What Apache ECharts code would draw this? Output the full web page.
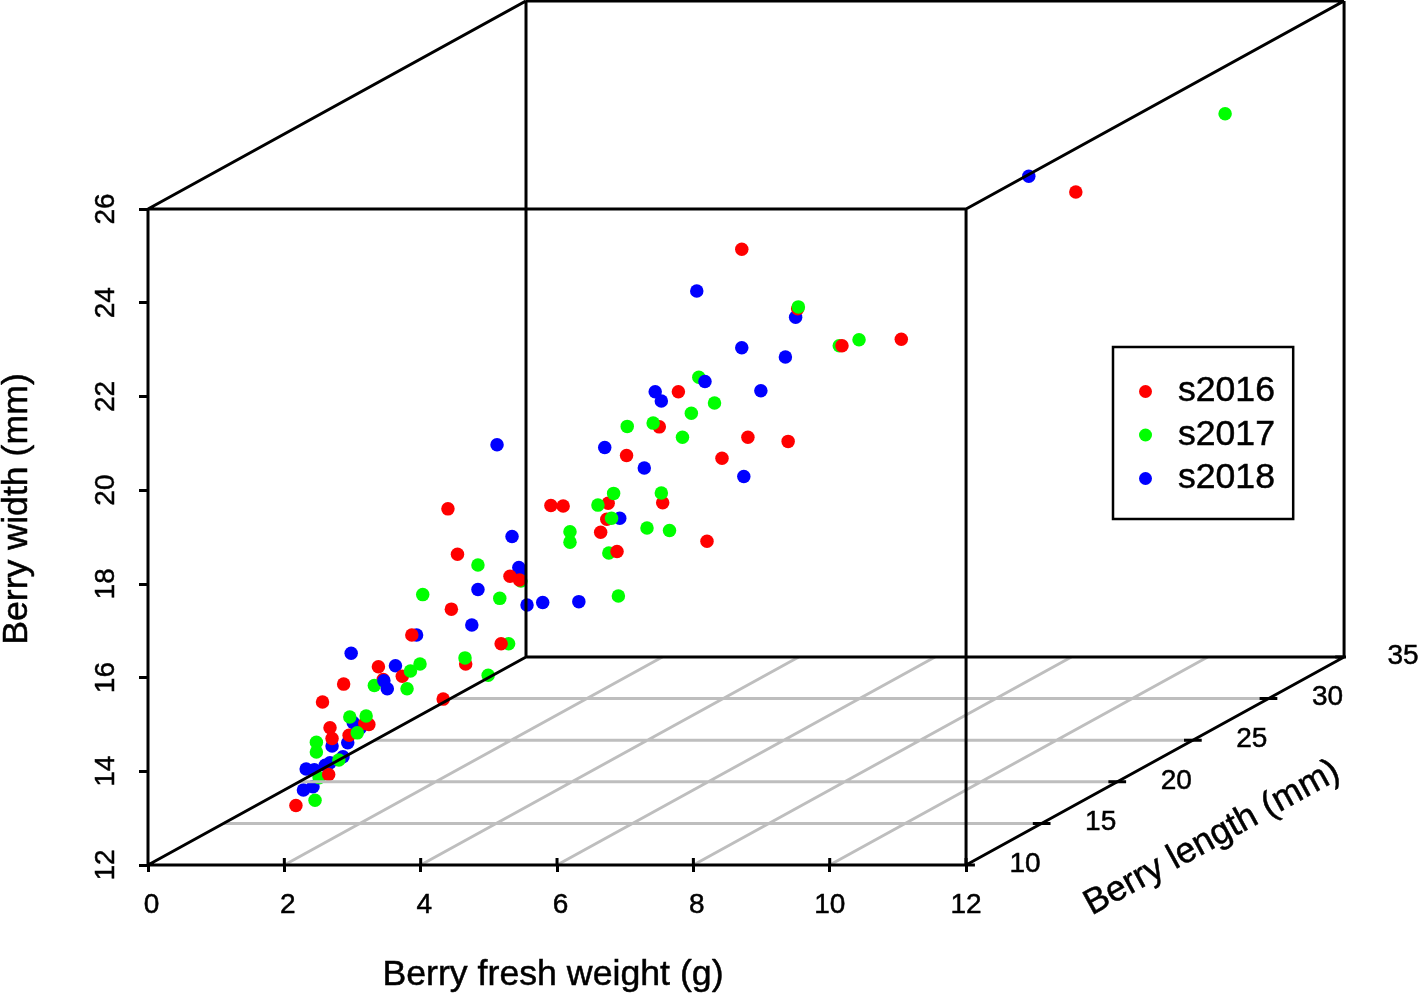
<!DOCTYPE html>
<html>
<head>
<meta charset="utf-8">
<title>Berry size</title>
<script src="https://cdn.jsdelivr.net/npm/echarts@6/dist/echarts.min.js"></script>
<style>
  html, body { margin: 0; padding: 0; background: #fff; }
  #chart { width: 1418px; height: 993px; }
</style>
</head>
<body>
<div id="chart"></div>
<script>
// tick labels
var weightTicks = [0, 2, 4, 6, 8, 10, 12];
var widthTicks = [12, 14, 16, 18, 20, 22, 24, 26];
var lengthTicks = [10, 15, 20, 25, 30, 35];

// points as they read off the picture, in weight / width units after the
// oblique projection (the length part can't be recovered from a flat image)
var s2016 = [
  [2.17, 13.27], [2.70, 14.70], [2.67, 14.93], [2.95, 14.77], [3.24, 15.00], [3.18, 15.02],
  [2.56, 15.48], [2.87, 15.86], [3.38, 16.23], [3.45, 15.96], [3.73, 16.03], [3.87, 16.91],
  [4.33, 15.54], [4.66, 16.29], [4.45, 17.46], [4.54, 18.63], [4.40, 19.60], [5.31, 18.16],
  [5.91, 19.67], [6.09, 19.66], [6.75, 19.72], [6.73, 19.38], [6.64, 19.10],
  [7.55, 19.73], [8.20, 18.91], [7.02, 20.74], [7.50, 21.35], [8.42, 20.68], [8.80, 21.13],
  [9.39, 21.04], [7.78, 22.10], [9.53, 23.87], [11.05, 23.22], [8.71, 25.14], [13.61, 26.36]
];
var s2017 = [
  [2.45, 13.38], [2.51, 13.86], [2.80, 14.24], [2.47, 14.41], [2.47, 14.62], [3.07, 14.82],
  [2.96, 15.16], [3.20, 15.18], [3.32, 15.83], [3.80, 15.76], [3.85, 16.14], [3.99, 16.29],
  [4.65, 16.42], [4.99, 16.05], [5.29, 16.72], [4.03, 17.77], [5.16, 17.69], [4.84, 18.40],
  [5.47, 18.06], [6.19, 18.89], [6.19, 19.11], [6.60, 19.68], [6.83, 19.93], [6.80, 19.40],
  [6.76, 18.66], [6.90, 17.74], [7.32, 19.19], [7.65, 19.14], [7.53, 19.94], [7.03, 21.36],
  [7.41, 21.43], [7.84, 21.13], [7.97, 21.64], [8.31, 21.86], [8.08, 22.41], [9.54, 23.91],
  [10.14, 23.08], [10.43, 23.21], [15.80, 28.03]
];
var s2018 = [
  [2.28, 13.60], [2.42, 13.67], [2.32, 14.05], [2.44, 14.03], [2.60, 14.13], [2.67, 14.18],
  [2.86, 14.31], [2.70, 14.54], [2.93, 14.61], [3.01, 15.04], [3.11, 14.92], [2.98, 16.52],
  [3.63, 16.25], [3.94, 16.91], [4.75, 17.12], [4.84, 17.88], [5.44, 18.35], [5.46, 18.25],
  [5.34, 19.01], [5.56, 17.55], [5.79, 17.60], [6.32, 17.62], [6.92, 19.40], [5.12, 20.97],
  [6.70, 20.91], [7.28, 20.47], [8.74, 20.29], [7.44, 22.10], [7.53, 21.90], [8.99, 22.12],
  [8.71, 23.04], [9.35, 22.84], [9.50, 23.69], [8.05, 24.25], [12.92, 26.70]
];
// the few points that sit on top of another year in the picture
var s2016Over = [[2.65, 13.93], [5.18, 16.72], [5.45, 18.08], [6.88, 18.69], [10.18, 23.08]];
var s2018Over = [[3.46, 15.93], [3.51, 15.76], [8.17, 22.32]];

var seasons = ["s2016", "s2017", "s2018"];
var seasonColors = ["#ff0000", "#00ff00", "#0000ff"];

// oblique projection of the length axis onto the flat plot
var weightPerLength = 0.2218;
var widthPerLength = 0.17755;
function project(weight, width, length) {
  return [
    weight + (length - 10) * weightPerLength,
    width + (length - 10) * widthPerLength,
  ];
}

// one line series drawn from many [from, to] pieces, gaps between them
function segments(pairs) {
  var out = [];
  pairs.forEach(function (p) {
    out.push(p[0], p[1], ["-", "-"]);
  });
  return out;
}
function lineSeries(pairs, color, width) {
  return {
    type: "line",
    data: segments(pairs),
    showSymbol: false,
    symbol: "none",
    clip: false,
    silent: true,
    connectNulls: false,
    lineStyle: { color: color, width: width, cap: "butt" },
  };
}
function pointSeries(name, data, color) {
  return {
    name: name,
    type: "scatter",
    data: data,
    symbol: "circle",
    symbolSize: 13.5,
    clip: false,
    itemStyle: { color: color, opacity: 1 },
  };
}

var font = "Liberation Sans";
var lo = { w: 0, h: 12, l: 10 };
var hi = { w: 12, h: 26, l: 35 };
// the reference text is a little heavier than plain Liberation Sans
var heavy = { color: "#000", fontFamily: font, textBorderColor: "#000", textBorderWidth: 0.5 };

function axisName(text, x, y, rotation) {
  return {
    type: "text",
    x: x,
    y: y,
    rotation: rotation,
    style: {
      text: text,
      font: "35.7px '" + font + "'",
      fill: "#000",
      stroke: "#000",
      lineWidth: 0.5,
      align: "center",
      verticalAlign: "middle",
    },
  };
}

// gray floor grid
var floorLines = [];
weightTicks.slice(1, -1).forEach(function (w) {
  floorLines.push([project(w, lo.h, lo.l), project(w, lo.h, hi.l)]);
});
lengthTicks.slice(1, -1).forEach(function (l) {
  floorLines.push([project(lo.w, lo.h, l), project(hi.w, lo.h, l)]);
});

// black cube edges
var boxLines = [
  [project(lo.w, lo.h, lo.l), project(hi.w, lo.h, lo.l)],
  [project(lo.w, hi.h, lo.l), project(hi.w, hi.h, lo.l)],
  [project(lo.w, lo.h, lo.l), project(lo.w, hi.h, lo.l)],
  [project(hi.w, lo.h, lo.l), project(hi.w, hi.h, lo.l)],
  [project(lo.w, lo.h, hi.l), project(hi.w, lo.h, hi.l)],
  [project(lo.w, hi.h, hi.l), project(hi.w, hi.h, hi.l)],
  [project(lo.w, lo.h, hi.l), project(lo.w, hi.h, hi.l)],
  [project(hi.w, lo.h, hi.l), project(hi.w, hi.h, hi.l)],
  [project(lo.w, lo.h, lo.l), project(lo.w, lo.h, hi.l)],
  [project(lo.w, hi.h, lo.l), project(lo.w, hi.h, hi.l)],
  [project(hi.w, hi.h, lo.l), project(hi.w, hi.h, hi.l)],
  [project(hi.w, lo.h, lo.l), project(hi.w, lo.h, hi.l)],
];

// ticks that the axes can't draw: inner half of weight ticks, length ticks
var tickLines = [];
weightTicks.slice(1).forEach(function (w) {
  tickLines.push([[w, lo.h], [w, lo.h + 0.15]]);
});
lengthTicks.forEach(function (l) {
  var p = project(hi.w, lo.h, l);
  tickLines.push([[p[0] - (l == 10 ? 0 : 0.13), p[1]], [p[0] + 0.13, p[1]]]);
});

var myChart = echarts.init(document.getElementById("chart"));
var option = {
  animation: false,
  backgroundColor: "#fff",
  textStyle: { fontFamily: font },
  grid: { left: 148, top: 0, width: 1196, height: 865 },
  xAxis: {
    type: "value",
    min: 0,
    max: 17.544,
    axisLine: { show: false },
    splitLine: { show: false },
    axisTick: { customValues: weightTicks, length: 7, lineStyle: { color: "#000", width: 3 } },
    axisLabel: {
      customValues: weightTicks,
      margin: 26,
      fontSize: 28,
      color: "#000",
      fontFamily: font,
      // single digit labels sit a bit right of their tick in the reference
      formatter: function (value) {
        return value < 10 ? "{one|" + value + "}" : "{two|" + value + "}";
      },
      rich: {
        one: Object.assign({ fontSize: 28, padding: [0, 0, 0, 7] }, heavy),
        two: Object.assign({ fontSize: 28 }, heavy),
      },
    },
  },
  yAxis: {
    type: "value",
    min: 12,
    max: 30.459,
    axisLine: { show: false },
    splitLine: { show: false },
    axisTick: { customValues: widthTicks, length: 9, lineStyle: { color: "#000", width: 3 } },
    axisLabel: Object.assign({
      customValues: widthTicks,
      rotate: 90,
      margin: 28,
      fontSize: 28,
    }, heavy),
  },
  legend: {
    data: seasons,
    orient: "vertical",
    left: 1113,
    top: 347,
    icon: "circle",
    itemWidth: 13,
    itemHeight: 13,
    itemGap: 5.5,
    padding: [25.5, 18, 21.5, 26],
    borderColor: "#000",
    borderWidth: 2.5,
    backgroundColor: "#fff",
    selectedMode: false,
    textStyle: Object.assign({
      fontSize: 35.6,
      lineHeight: 36,
      padding: [2, 0, 0, 21],
    }, heavy),
  },
  graphic: [
    axisName("Berry fresh weight (g)", 553, 975, 0),
    axisName("Berry width (mm)", 17, 509, Math.PI / 2),
    axisName("Berry length (mm)", 1212, 838, 0.503),
  ],
  series: [
    lineSeries(floorLines, "#bebebe", 3),
    lineSeries(boxLines, "#000", 3),
    lineSeries(tickLines, "#000", 3),
    {
      // length axis labels, hung on the ticks of the front-to-back edge
      type: "scatter",
      symbolSize: 0,
      silent: true,
      clip: false,
      itemStyle: { opacity: 1 },
      data: lengthTicks.map(function (l) {
        return project(hi.w, lo.h, l).concat(l);
      }),
      label: Object.assign({
        show: true,
        position: "inside",
        offset: [59, -1],
        fontSize: 28,
        opacity: 1,
        formatter: function (params) {
          return params.value[2];
        },
      }, heavy),
    },
    pointSeries("s2018", s2018, seasonColors[2]),
    pointSeries("s2016", s2016, seasonColors[0]),
    pointSeries("s2017", s2017, seasonColors[1]),
    pointSeries("s2016", s2016Over, seasonColors[0]),
    pointSeries("s2018", s2018Over, seasonColors[2]),
  ],
};
myChart.setOption(option);
</script>
</body>
</html>
